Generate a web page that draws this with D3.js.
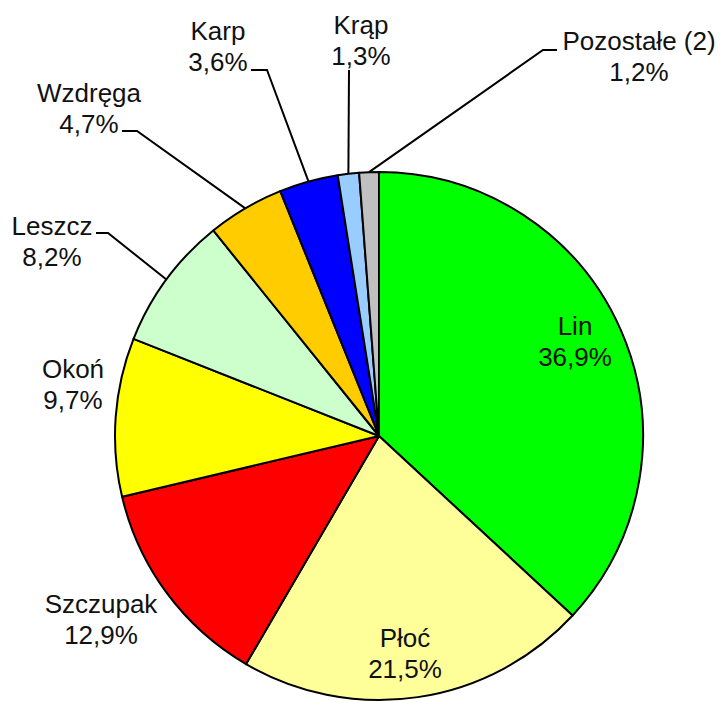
<html>
<head>
    <meta charset="utf-8">
    <title>Udział gatunków</title>
    <style>
        body { margin: 0; background: #fff; }
        svg { display: block; }
        text { font-family: "Liberation Sans", Arial, sans-serif; font-size: 26px; fill: #111; }
    </style>
</head>
<body>
<script src="https://d3js.org/d3.v7.min.js"></script>
<script>
    // data, clockwise from 12 o'clock
    var species = ['Lin', 'Płoć', 'Szczupak', 'Okoń', 'Leszcz', 'Wzdręga', 'Karp', 'Krąp', 'Pozostałe (2)'];
    var shares = [36.9, 21.5, 12.9, 9.7, 8.2, 4.7, 3.6, 1.3, 1.2];
    var colors = ['#00ff00', '#ffff99', '#ff0000', '#ffff00', '#ccffcc', '#ffcc00', '#0000ff', '#99ccff', '#c0c0c0'];

    // label placement: centre x, first baseline
    var labelX = [575, 405, 101, 73, 52, 89, 218, 361, 639];
    var labelY = [335, 647, 613, 378, 235, 102, 40, 34, 50];
    // leader: [start x, elbow x, y] or null
    var leaders = [null, null, null, null, [96, 108, 233], [122, 137, 131], [251, 267, 70], [349, 349, 70], [557, 543, 50]];

    var w = 725, h = 702;
    var cx = 379, cy = 436, r = 264;

    var svg = d3.select('body').append('svg').attr('width', w).attr('height', h);

    var pie = d3.pie().sort(null).value(function (d) { return d; });
    var arcs = pie(shares);
    var arc = d3.arc().innerRadius(0).outerRadius(r);

    var g = svg.append('g').attr('transform', 'translate(' + cx + ',' + cy + ')');

    g.selectAll('path').data(arcs).enter().append('path')
        .attr('d', arc)
        .attr('fill', function (d, i) { return colors[i]; })
        .attr('stroke', '#000')
        .attr('stroke-width', 2)
        .attr('stroke-linejoin', 'round');

    // leader lines: elbow then to the arc edge at the slice middle
    arcs.forEach(function (d, i) {
        var l = leaders[i];
        if (!l) return;
        var a = (d.startAngle + d.endAngle) / 2;
        var ex = cx + r * Math.sin(a), ey = cy - r * Math.cos(a);
        svg.append('polyline')
            .attr('points', [[l[0], l[2]], [l[1], l[2]], [ex, ey]])
            .attr('fill', 'none')
            .attr('stroke', '#000')
            .attr('stroke-width', 2);
    });

    var fmt = function (v) { return d3.format('.1f')(v).replace('.', ',') + '%'; };

    species.forEach(function (name, i) {
        var t = svg.append('text')
            .attr('text-anchor', 'middle')
            .attr('x', labelX[i])
            .attr('y', labelY[i]);
        t.append('tspan').attr('x', labelX[i]).text(name);
        t.append('tspan').attr('x', labelX[i]).attr('dy', 31).text(fmt(shares[i]));
    });
</script>
</body>
</html>
